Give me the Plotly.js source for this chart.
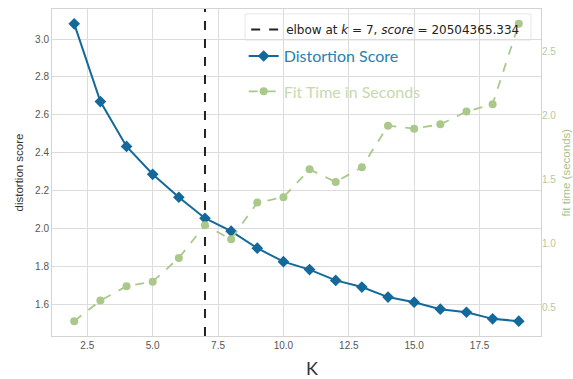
<!DOCTYPE html>
<html>
<head>
<meta charset="utf-8">
<script src="https://cdn.plot.ly/plotly-3.0.1.min.js"></script>
<style>html,body{margin:0;padding:0;background:#fff;}#chart{width:573px;height:379px;}</style>
</head>
<body>
<div id="chart"></div>
<script>
// ---- data ----
const kValues = [2,3,4,5,6,7,8,9,10,11,12,13,14,15,16,17,18,19];
const distortionScores = [3.08,2.67,2.433,2.286,2.165,2.054,1.986,1.896,1.825,1.783,1.726,1.691,1.638,1.611,1.574,1.558,1.523,1.511];
const fitTimes = [0.391,0.552,0.664,0.700,0.885,1.141,1.031,1.318,1.360,1.578,1.479,1.595,1.920,1.896,1.930,2.030,2.088,2.716];
const elbowK = 7;
const elbowScore = "20504365.334";
const xTitle = 'K';
const y2Title = 'fit time (seconds)';
const xTickStep = 2.5;
const yTickStep = 0.2;
const y2TickStep = 0.5;

// matplotlib-like 5% margins
function padRange(arr, frac){
  const mn = Math.min(...arr), mx = Math.max(...arr), d = (mx - mn) * frac;
  return [mn - d, mx + d];
}
const xRange = padRange(kValues, 0.05);
const yRange = padRange(distortionScores, 0.05);
const y2Range = padRange(fitTimes, 0.05);

const blue = '#13699a';
const green = '#a9c88a';
const tickFont = {family: 'Liberation Sans, Arial, sans-serif', size: 10, color: '#555'};

const traces = [
  {
    x: [elbowK, elbowK], y: yRange, xaxis: 'x', yaxis: 'y',
    mode: 'lines', line: {color: '#222', width: 2, dash: 'dash'},
    name: 'elbow at <i>k</i> = ' + elbowK + ', <i>score</i> = ' + elbowScore,
    legend: 'legend', hoverinfo: 'skip'
  },
  {
    x: kValues, y: distortionScores, xaxis: 'x', yaxis: 'y',
    mode: 'lines+markers', name: 'Distortion Score', legend: 'legend2',
    line: {color: blue, width: 2},
    marker: {symbol: 'diamond', size: 9, color: blue}
  },
  {
    x: kValues, y: fitTimes, xaxis: 'x', yaxis: 'y2',
    mode: 'lines+markers', name: 'Fit Time in Seconds', legend: 'legend3',
    line: {color: green, width: 1.8, dash: 'dash'},
    marker: {symbol: 'circle', size: 8, color: green}
  }
];

const layout = {
  width: 573, height: 379,
  margin: {l: 52, r: 32, t: 9, b: 43},
  paper_bgcolor: '#fff', plot_bgcolor: '#fff',
  showlegend: true,
  xaxis: {
    range: xRange, tick0: 0, dtick: xTickStep, tickformat: '.1f',
    showgrid: true, gridcolor: '#dcdcdc', gridwidth: 1, zeroline: false,
    showline: true, linecolor: '#d3d3d3', linewidth: 1, mirror: true,
    ticks: '', tickfont: tickFont
  },
  yaxis: {
    range: yRange, tick0: 0, dtick: yTickStep, tickformat: '.1f',
    showgrid: true, gridcolor: '#dcdcdc', gridwidth: 1, zeroline: false,
    showline: true, linecolor: '#d3d3d3', linewidth: 1, mirror: true,
    ticks: '', tickfont: tickFont,
    title: {text: 'distortion score', font: {family: 'Liberation Sans, Arial, sans-serif', size: 11.5, color: '#333'}, standoff: 9}
  },
  yaxis2: {
    range: y2Range, tick0: 0, dtick: y2TickStep, tickformat: '.1f',
    overlaying: 'y', side: 'right', showgrid: false, zeroline: false,
    showline: false, ticks: '',
    tickfont: {family: 'Liberation Sans, Arial, sans-serif', size: 10, color: '#b4cb9c'}
  },
  shapes: [{
    type: 'rect', xref: 'paper', yref: 'paper', layer: 'between',
    x0: 0.3947, x1: 0.9796, y0: 0.905, y1: 0.985,
    fillcolor: 'rgba(255,255,255,0.92)', line: {color: '#e6e6e6', width: 1}
  }],
  annotations: [{
    text: xTitle, xref: 'paper', yref: 'paper', x: 0.532, y: -0.098,
    xanchor: 'center', yanchor: 'middle', showarrow: false,
    font: {family: 'Lato, sans-serif', size: 18, color: '#333'}
  }, {
    text: y2Title, xref: 'paper', yref: 'paper', x: 1.051, y: 0.5,
    xanchor: 'center', yanchor: 'middle', showarrow: false, textangle: -90,
    font: {family: 'Liberation Sans, Arial, sans-serif', size: 11.5, color: '#a9c28c'}
  }],
  legend: {
    x: 0.395, y: 0.985, xanchor: 'left', yanchor: 'top',
    bgcolor: 'rgba(0,0,0,0)', bordercolor: 'rgba(0,0,0,0)', borderwidth: 1,
    font: {family: 'DejaVu Sans, sans-serif', size: 12, color: '#222'},
    itemwidth: 30
  },
  legend2: {
    x: 0.392, y: 0.908, xanchor: 'left', yanchor: 'top',
    bgcolor: 'rgba(0,0,0,0)', borderwidth: 0,
    font: {family: 'Lato, sans-serif', size: 16, color: '#2a7fae'}
  },
  legend3: {
    x: 0.392, y: 0.80, xanchor: 'left', yanchor: 'top',
    bgcolor: 'rgba(0,0,0,0)', borderwidth: 0,
    font: {family: 'Lato, sans-serif', size: 16, color: '#c6d9b0'}
  }
};

Plotly.newPlot('chart', traces, layout, {staticPlot: true, displayModeBar: false});
</script>
</body>
</html>
